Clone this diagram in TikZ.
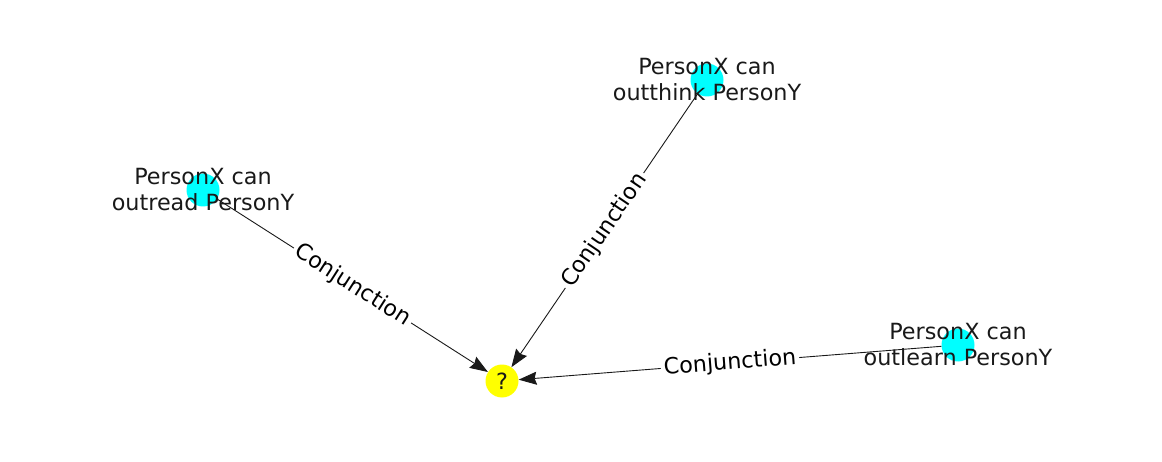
\documentclass[tikz,border=0pt]{standalone}
\usepackage{fontspec}
\setmainfont{DejaVu Sans}
\usetikzlibrary{positioning,arrows.meta}

\definecolor{nodecyan}{RGB}{0,255,255}
\definecolor{nodeyellow}{RGB}{255,255,0}

\tikzset{
  event/.style={circle, fill=nodecyan, minimum size=33pt, inner sep=0pt},
  query/.style={circle, fill=nodeyellow, minimum size=33pt, inner sep=0pt},
  caption/.style={align=center, font=\fontsize{22.3}{26}\selectfont, text=black!90},
  rel/.style={draw=black!90, line width=0.9pt, -{Stealth[length=18pt,width=13pt,inset=2pt]}},
  rellabel/.style={fill=white, sloped, font=\fontsize{22.3}{26}\selectfont, inner sep=3pt}
}

\begin{document}
\begin{tikzpicture}[x=1pt, y=-1pt]
  \useasboundingbox (0,0) rectangle (1162,462);

  % nodes
  \node[event] (outread) at (203,190) {};
  \node[event] (outthink) at (707,80) {};
  \node[event] (outlearn) at (958,345) {};
  \node[query] (q) at (502,381) {};

  % edges
  \draw[rel] (outread) -- node[rellabel] {Conjunction} (q);
  \draw[rel] (outthink) -- node[rellabel] {Conjunction} (q);
  \draw[rel] (outlearn) -- node[rellabel] {Conjunction} (q);

  % texts
  \node[caption] (outreadtext) at (outread) {PersonX can\\outread PersonY};
  \node[caption] (outthinktext) at (outthink) {PersonX can\\outthink PersonY};
  \node[caption] (outlearntext) at (outlearn) {PersonX can\\outlearn PersonY};
  \node[caption] (qtext) at (q) {?};
\end{tikzpicture}
\end{document}
